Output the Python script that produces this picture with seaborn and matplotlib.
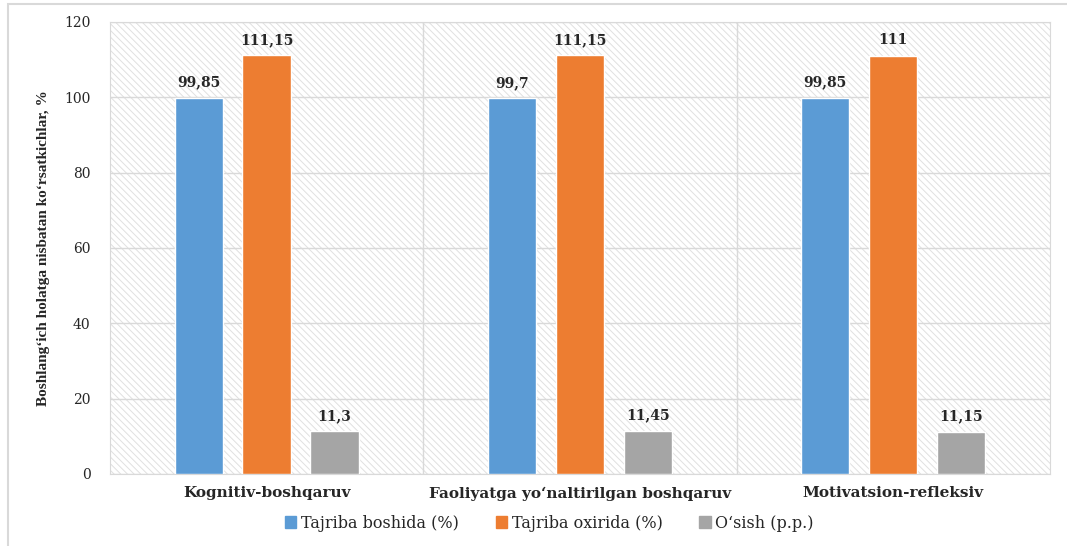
import matplotlib
matplotlib.use("Agg")
import matplotlib.pyplot as plt
import matplotlib.patches as mpatches
import seaborn as sns
import pandas as pd

categories = ["Kognitiv-boshqaruv", "Faoliyatga yo‘naltirilgan boshqaruv", "Motivatsion-refleksiv"]
series = ["Tajriba boshida (%)", "Tajriba oxirida (%)", "O‘sish (p.p.)"]
boshida = [99.85, 99.7, 99.85]
oxirida = [111.15, 111.15, 111]
osish = [11.3, 11.45, 11.15]
colors = ["#5B9BD5", "#ED7D31", "#A5A5A5"]

rows = []
for vals, s in zip([boshida, oxirida, osish], series):
    for c, v in zip(categories, vals):
        rows.append({"cat": c, "series": s, "val": v})
df = pd.DataFrame(rows)

sns.set_style("white")
plt.rcParams["font.family"] = ["DejaVu Serif"]
plt.rcParams["hatch.color"] = "#e0e0e0"
plt.rcParams["hatch.linewidth"] = 0.7

fig = plt.figure(figsize=(10.67, 5.46), dpi=100)
ax = fig.add_axes([0.103, 0.132, 0.881, 0.828])

# hatched plot background
bg = mpatches.Rectangle((0, 0), 1, 1, transform=ax.transAxes, facecolor="white",
                        edgecolor="#e0e0e0", hatch="\\" * 5, lw=0, zorder=0)
ax.add_patch(bg)

sns.barplot(data=df, x="cat", y="val", hue="series", palette=colors, saturation=1,
            width=0.65, gap=0.29, ax=ax, zorder=3, legend=True)

for cont in ax.containers:
    labels = [("%g" % v).replace(".", ",") for v in cont.datavalues]
    ax.bar_label(cont, labels=labels, padding=6, fontsize=10, fontweight="bold")

ax.set_ylim(0, 120)
ax.set_yticks(range(0, 121, 20))
ax.set_xlim(-0.5, 2.5)
ax.set_axisbelow(False)
ax.yaxis.grid(True, color="#d9d9d9", lw=1, zorder=1)
for xv in [0.5, 1.5]:
    ax.axvline(xv, color="#d9d9d9", lw=1, zorder=1)
for sp in ax.spines.values():
    sp.set_color("#d9d9d9")
ax.tick_params(axis="y", labelsize=10, length=0, pad=14)
ax.tick_params(axis="x", labelsize=11, length=0, pad=9)
for t in ax.get_xticklabels():
    t.set_fontweight("bold")
ax.set_xlabel("")
ax.set_ylabel("Boshlang‘ich holatga nisbatan ko‘rsatkichlar, %", fontsize=11,
              fontweight="bold", family=["Liberation Serif", "DejaVu Serif"], labelpad=10)

ax.legend_.remove()
handles = [mpatches.Patch(color=c, label=s) for c, s in zip(colors, series)]
fig.legend(handles=handles, loc="center", bbox_to_anchor=(0.515, 0.042), ncol=3,
           frameon=False, fontsize=11.5, handlelength=0.7, handleheight=0.7,
           columnspacing=2.3, handletextpad=0.3)

# outer chart frame
frame = mpatches.Rectangle((8 / 1067, -0.05), 1.2, 1.05 - 4 / 546,
                           transform=fig.transFigure, fill=False,
                           edgecolor="#d9d9d9", lw=1.5)
fig.add_artist(frame)

fig.savefig("out.png", dpi=100)
